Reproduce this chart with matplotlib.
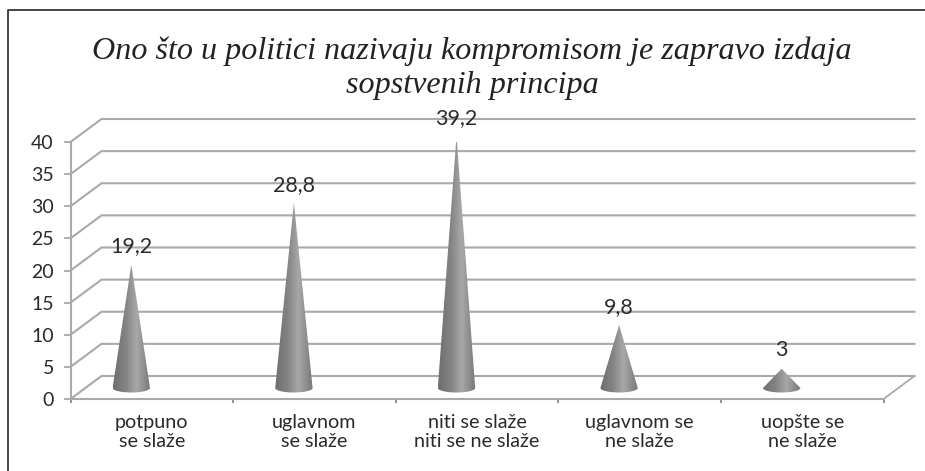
import numpy as np
import matplotlib
matplotlib.use("Agg")
import matplotlib.pyplot as plt
from matplotlib.path import Path
from matplotlib.patches import PathPatch
from matplotlib.lines import Line2D

title = "Ono što u politici nazivaju kompromisom je zapravo izdaja\nsopstvenih principa"
categories = ["potpuno\nse slaže", "uglavnom\nse slaže", "niti se slaže\nniti se ne slaže",
              "uglavnom se\nne slaže", "uopšte se\nne slaže"]
values = [19.2, 28.8, 39.2, 9.8, 3]
value_labels = ["19,2", "28,8", "39,2", "9,8", "3"]
y_ticks = [0, 5, 10, 15, 20, 25, 30, 35, 40]

W, H = 925, 471
L, R, T, B = 70.5, 883.5, 142, 399
fig = plt.figure(figsize=(W/100, H/100), dpi=100, facecolor="white")
ax = fig.add_axes([L/W, 1-B/H, (R-L)/W, (B-T)/H])
ax.set_xlim(0, 5)
ax.set_ylim(0, 40)
ax.patch.set_visible(False)

px_x = 5/(R-L)
px_y = 40/(B-T)
depth_x, depth_y = 31*px_x, 23*px_y
LINE = "#a9a9a9"
TXT = "#2a2a2a"
SANS = "Lato"

# walls: gridlines with left-wall diagonals, floor
for v in y_ticks:
    ax.plot([0, depth_x, 5+depth_x], [v, v+depth_y, v+depth_y], color=LINE, lw=1.5,
            clip_on=False, zorder=1, solid_joinstyle="miter")
ax.plot([5, 5+depth_x], [0, depth_y], color=LINE, lw=1.3, clip_on=False, zorder=1)

# cones
cone_dx = -20.5*px_x
cone_dy = 11*px_y
half_w = 18.7*px_x
half_h = 4.5*px_y
grad = np.interp(np.linspace(0, 1, 256), [0, .35, .62, .85, 1], [.43, .52, .66, .54, .47])[None, :]
for i, v in enumerate(values):
    cx = i + 0.5 + cone_dx
    cy = cone_dy
    th = np.linspace(np.pi, 2*np.pi, 40)
    ex = cx + half_w*np.cos(th)
    ey = cy + half_h*np.sin(th)
    verts = [(cx, cy+v)] + list(zip(ex, ey)) + [(cx, cy+v)]
    codes = [Path.MOVETO] + [Path.LINETO]*(len(verts)-2) + [Path.CLOSEPOLY]
    patch = PathPatch(Path(verts, codes), fc="none", ec="none", transform=ax.transData)
    ax.add_patch(patch)
    im = ax.imshow(grad, cmap="gray", vmin=0, vmax=1, aspect="auto", zorder=2,
                   extent=[cx-half_w, cx+half_w, cy-half_h, cy+v], interpolation="bilinear")
    im.set_clip_path(patch)
    ax.annotate(value_labels[i], (cx, cy+v), xytext=(0, 6), textcoords="offset points",
                ha="center", va="bottom", fontsize=15.5, family=SANS, color=TXT,
                annotation_clip=False, zorder=3)
ax.set_xlim(0, 5)
ax.set_ylim(0, 40)

# axes
for s in ("top", "right"):
    ax.spines[s].set_visible(False)
for s in ("left", "bottom"):
    ax.spines[s].set_color(LINE)
    ax.spines[s].set_linewidth(1.5)
ax.set_yticks(y_ticks)
ax.set_yticklabels([str(v) for v in y_ticks], fontsize=14, family=SANS, color=TXT)
ax.tick_params(axis="y", length=5, width=1.3, color=LINE, pad=7)
ax.set_xticks(range(6))
ax.set_xticklabels([])
ax.tick_params(axis="x", length=3, width=1.3, color="#888888")
for i, c in enumerate(categories):
    ax.annotate(c, (i+0.5, 0), xytext=(0, -11), textcoords="offset points",
                ha="center", va="top", fontsize=14.2, family=SANS, color=TXT,
                linespacing=1.1, annotation_clip=False)

fig.text(472/W, 1-68/H, title, ha="center", va="center", fontsize=23.1, style="italic",
         family="Liberation Serif", color="#222222", linespacing=1.22)

# outer frame
fig.add_artist(Line2D([7.5/W, 7.5/W, 1], [0, 1-9.5/H, 1-9.5/H], color="#444444", lw=1.4,
                      transform=fig.transFigure))
fig.savefig("out.png", dpi=100)
